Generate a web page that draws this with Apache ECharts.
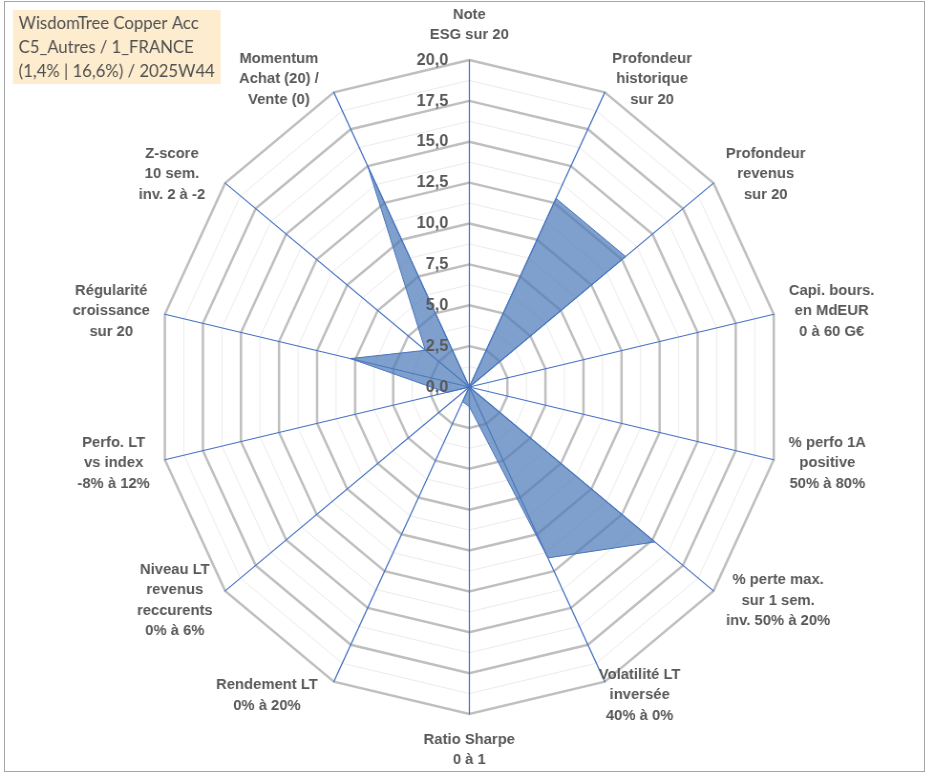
<!DOCTYPE html>
<html>
<head>
<meta charset="utf-8">
<script src="https://cdn.jsdelivr.net/npm/echarts@6/dist/echarts.min.js"></script>
<style>
html, body { margin: 0; padding: 0; background: #fff; overflow: hidden; }
#wrap { position: absolute; left: 0; top: 0; width: 933px; height: 776px; overflow: hidden; }
#radar_chart { width: 977px; height: 776px; transform: scaleX(0.955); transform-origin: 0 0; }
#frame { position: absolute; left: 4px; top: 1px; width: 919px; height: 769px; border: 1px solid #a6a6a6; pointer-events: none; }
</style>
</head>
<body>
<div id="wrap"><div id="radar_chart"></div><div id="frame"></div></div>
<script>
// libellés des axes, dans l'ordre Excel (sens horaire depuis le haut)
var indicator_names = [
    'Note\nESG sur 20',
    'Profondeur\nhistorique\nsur 20',
    'Profondeur\nrevenus\nsur 20',
    'Capi. bours.\nen MdEUR\n0 à 60 G€',
    '% perfo 1A\npositive\n50% à 80%',
    '% perte max.\nsur 1 sem.\ninv. 50% à 20%',
    'Volatilité LT\ninversée\n40% à 0%',
    'Ratio Sharpe\n0 à 1',
    'Rendement LT\n0% à 20%',
    'Niveau LT\nrevenus\nreccurents\n0% à 6%',
    'Perfo. LT\nvs index\n-8% à 12%',
    'Régularité\ncroissance\nsur 20',
    'Z-score\n10 sem.\ninv. 2 à -2',
    'Momentum\nAchat (20) /\nVente (0)'
];
var fund_values = [0, 12.8, 12.8, 0, 0, 15.2, 11.6, 1.2, 1.0, 0, 1.5, 7.8, 3.6, 15.0];
var scale_max = 20;
var major_splits = 8;   // pas de 2,5
var minor_splits = 16;  // pas de 1,25
var title_lines = ['WisdomTree Copper Acc', 'C5_Autres / 1_FRANCE', '(1,4% | 16,6%) / 2025W44'];

// décalage horizontal des libellés en diagonale (Excel les écarte un peu plus)
var name_shift = [0, 0, 0, 0, 0, 0, -14, 0, -9, 0, 0, 0, -8, -8];

var sx = 0.955; // le graphique Excel est un peu plus étroit que haut
var txt_color = '#595959';
var radar_chart = echarts.init(document.getElementById('radar_chart'));

// echarts tourne dans le sens anti-horaire : on garde le premier axe et on inverse le reste
var order = [0];
for (var i = indicator_names.length - 1; i > 0; i--) order.push(i);

// largeur de chaque bloc de libellé = ligne la plus longue, lignes centrées dedans
var name_size = 15.5;
var ctx = document.createElement('canvas').getContext('2d');
ctx.font = 'bold ' + name_size + 'px "Liberation Sans"';
var half = indicator_names.length / 2;
var name_rich = {};
indicator_names.forEach(function (name, k) {
    var w = 0;
    name.split('\n').forEach(function (l) { w = Math.max(w, ctx.measureText(l).width); });
    // côté droit : bloc aligné à gauche, côté gauche : aligné à droite
    var side = (k > 0 && k < half) ? 1 : (k > half ? -1 : 0);
    w = Math.ceil(w) + 2 + side * 2 * name_shift[k];
    name_rich['n' + k] = {
        width: w,
        align: 'center',
        fontFamily: 'Liberation Sans',
        fontWeight: 'bold',
        fontSize: name_size,
        lineHeight: 20.5,
        color: txt_color
    };
});

function make_indicators(with_label) {
    return order.map(function (k) {
        var o = { name: indicator_names[k], min: 0, max: scale_max };
        if (with_label && k === 0) o.axisLabel = { show: true };
        return o;
    });
}

function base_radar(extra) {
    var r = {
        center: [469.3 / sx, 387],
        radius: 327,
        startAngle: 90,
        shape: 'polygon',
        splitNumber: major_splits,
        indicator: make_indicators(false),
        axisName: { show: false },
        axisLine: { show: false },
        axisTick: { show: false },
        axisLabel: { show: false },
        splitLine: { show: false },
        splitArea: { show: false }
    };
    for (var key in extra) r[key] = extra[key];
    return r;
}

radar_chart.setOption({
    backgroundColor: '#ffffff',
    animation: false,
    title: {
        text: title_lines.join('\n'),
        left: 13 / sx,
        top: 10,
        padding: [1, 6, 1, 6],
        backgroundColor: '#fdecce',
        textStyle: {
            fontFamily: 'Lato',
            fontWeight: 'normal',
            fontSize: 17.5,
            lineHeight: 24,
            color: '#505050'
        }
    },
    radar: [
        // graduations secondaires
        base_radar({
            splitNumber: minor_splits,
            splitLine: { show: true, lineStyle: { color: '#ececec', width: 1 } }
        }),
        // graduations principales
        base_radar({
            splitLine: { show: true, lineStyle: { color: '#bfbfbf', width: 2.5 } }
        }),
        // axes bleus et libellés
        base_radar({
            z: 1,
            axisLine: { show: true, lineStyle: { color: '#4472c4', width: 1.2 } },
            axisName: {
                show: true,
                formatter: function (name) {
                    var k = indicator_names.indexOf(name);
                    return name.split('\n').map(function (l) { return '{n' + k + '|' + l + '}'; }).join('\n');
                },
                rich: name_rich
            },
            nameGap: 15
        }),
        // valeurs sur l'axe du haut, par-dessus la surface
        base_radar({
            z: 3,
            indicator: make_indicators(true),
            axisLabel: {
                show: false,
                margin: 22,
                color: txt_color,
                fontFamily: 'Liberation Sans',
                fontWeight: 'bold',
                fontSize: 17,
                formatter: function (v) { return Number(v).toFixed(1).replace('.', ','); }
            }
        })
    ],
    series: [{
        type: 'radar',
        radarIndex: 1,
        z: 2,
        silent: true,
        symbol: 'none',
        lineStyle: { color: '#4472c4', width: 1 },
        areaStyle: {
            color: '#4d7cb8',
            opacity: 0.72
        },
        data: [{ value: order.map(function (k) { return fund_values[k]; }) }]
    }]
});
</script>
</body>
</html>
